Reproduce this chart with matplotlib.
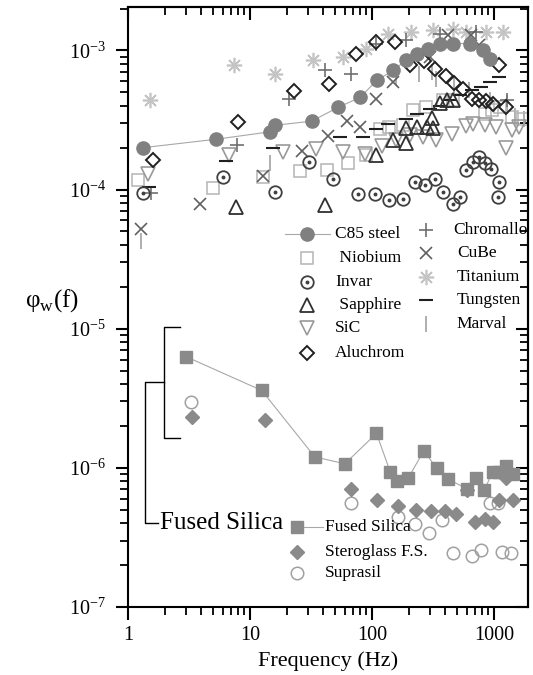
import numpy as np
import matplotlib
matplotlib.use("Agg")
from matplotlib import pyplot as plt
from matplotlib import ticker

plt.rcParams['font.family'] = ['Liberation Serif', 'DejaVu Serif']
plt.rcParams['axes.unicode_minus'] = False

# frequency (Hz) and loss angle values
c85_f = [1.33, 5.3, 14.6, 16.2, 32, 53, 80, 110, 150, 190, 232, 290, 360, 460, 640, 820, 930]
c85_v = [2.0e-4, 2.3e-4, 2.6e-4, 2.9e-4, 3.1e-4, 3.9e-4, 4.6e-4, 6.1e-4, 7.2e-4, 8.5e-4,
         9.5e-4, 1.03e-3, 1.12e-3, 1.12e-3, 1.12e-3, 1.0e-3, 8.7e-4]

niob_f = [1.21, 5.0, 12.9, 25.7, 42.5, 64, 90, 116, 138, 180, 218, 280, 384, 463, 843, 960, 1130, 1400, 1700]
niob_v = [1.17e-4, 1.03e-4, 1.23e-4, 1.35e-4, 1.38e-4, 1.54e-4, 1.76e-4, 2.74e-4, 2.8e-4, 2.9e-4,
          3.7e-4, 3.9e-4, 4.4e-4, 4.4e-4, 3.5e-4, 3.7e-4, 3.9e-4, 3.3e-4, 3.2e-4]

invar_f = [1.32, 5.97, 16, 30.7, 48, 77, 105, 139, 180, 225, 270, 326, 380, 463, 525, 595,
           675, 760, 840, 950, 1080, 1110]
invar_v = [9.4e-5, 1.23e-4, 9.6e-5, 1.58e-4, 1.2e-4, 9.3e-5, 9.3e-5, 8.4e-5, 8.6e-5, 1.13e-4,
           1.07e-4, 1.2e-4, 9.6e-5, 7.9e-5, 8.9e-5, 1.39e-4, 1.58e-4, 1.71e-4, 1.54e-4, 1.41e-4,
           8.8e-5, 1.13e-4]

sapph_f = [7.7, 41, 108, 150, 192, 192, 235, 281, 310, 315, 360, 410, 460]
sapph_v = [7.5e-5, 7.7e-5, 1.76e-4, 2.26e-4, 2.15e-4, 2.75e-4, 2.8e-4, 2.8e-4, 3.25e-4, 2.75e-4,
           4.2e-4, 4.4e-4, 4.4e-4]

sic_f = [1.47, 6.75, 18.8, 35, 58, 87, 120, 158, 204, 262, 335, 450, 595, 675, 840, 1040, 1260, 1400, 1620]
sic_v = [1.3e-4, 1.76e-4, 1.86e-4, 1.96e-4, 1.86e-4, 1.8e-4, 2.07e-4, 2.26e-4, 2.45e-4, 2.4e-4,
         2.26e-4, 2.52e-4, 2.85e-4, 2.98e-4, 2.9e-4, 2.8e-4, 2.0e-4, 2.67e-4, 2.8e-4]

aluch_f = [1.61, 8.0, 23, 44.5, 74, 108, 156, 204, 265, 326, 405, 475, 560, 655, 760, 860, 980, 1110, 1260]
aluch_v = [1.64e-4, 3.06e-4, 5.1e-4, 5.7e-4, 9.5e-4, 1.15e-3, 1.15e-3, 7.9e-4, 8.4e-4, 7.4e-4,
           6.6e-4, 5.8e-4, 5.3e-4, 4.5e-4, 4.4e-4, 4.3e-4, 4.1e-4, 7.8e-4, 3.9e-4]

chrom_f = [1.56, 7.8, 21, 41, 68, 108, 190, 360, 710, 1290]
chrom_v = [9.5e-5, 2.08e-4, 4.5e-4, 7.2e-4, 6.8e-4, 1.12e-3, 1.18e-3, 1.32e-3, 1.35e-3, 4.4e-4]

cube_f = [1.29, 3.9, 12.8, 26.5, 43.6, 62, 80, 107, 150, 300, 420, 650, 760]
cube_v = [5.2e-5, 7.9e-5, 1.25e-4, 1.9e-4, 2.41e-4, 3.1e-4, 2.8e-4, 4.5e-4, 5.9e-4, 9.0e-4,
          1.3e-3, 1.3e-3, 1.1e-3]

titan_f = [1.51, 7.4, 16, 33, 58, 90, 135, 210, 315, 460, 595, 860, 1180]
titan_v = [4.4e-4, 7.9e-4, 6.8e-4, 8.6e-4, 9.0e-4, 1.03e-3, 1.32e-3, 1.35e-3, 1.4e-3, 1.43e-3,
           1.35e-3, 1.35e-3, 1.35e-3]

tung_f = [1.5, 6.4, 15.5, 54.5, 84, 108, 135, 190, 232, 298, 360, 436, 526, 655, 790, 920, 1110]
tung_v = [1.04e-4, 1.6e-4, 2.0e-4, 2.4e-4, 2.4e-4, 2.74e-4, 2.98e-4, 3.24e-4, 3.5e-4, 3.8e-4,
          4.0e-4, 4.4e-4, 4.75e-4, 5.2e-4, 5.5e-4, 5.9e-4, 6.4e-4]

marval_f = [1.28, 14.6, 158, 245, 310, 336, 470, 620, 920, 1290, 1500, 1750]
marval_v = [4.3e-5, 1.55e-4, 6.4e-4, 6.8e-4, 7.0e-4, 6.2e-4, 5.6e-4, 5.2e-4, 4.4e-4, 4.2e-4,
            3.4e-4, 3.2e-4]

fused_f = [2.99, 12.5, 34, 60, 109, 141, 161, 199, 267, 339, 421, 597, 717, 835, 975, 1110, 1260, 1430]
fused_v = [6.3e-6, 3.6e-6, 1.2e-6, 1.07e-6, 1.77e-6, 9.4e-7, 8.0e-7, 8.5e-7, 1.33e-6, 9.9e-7,
           8.3e-7, 7.1e-7, 8.5e-7, 6.9e-7, 9.4e-7, 9.4e-7, 1.03e-6, 9.0e-7]

stero_f = [3.33, 13.4, 68, 111, 164, 231, 307, 396, 493, 597, 700, 840, 985, 1110, 1260, 1430]
stero_v = [2.33e-6, 2.2e-6, 7.1e-7, 5.9e-7, 5.3e-7, 4.98e-7, 4.9e-7, 4.9e-7, 4.7e-7, 6.9e-7,
           4.1e-7, 4.3e-7, 4.1e-7, 5.9e-7, 8.4e-7, 5.9e-7]

supra_f = [3.26, 68, 164, 225, 293, 378, 466, 665, 790, 920, 1080, 1170, 1370]
supra_v = [2.99e-6, 5.6e-7, 4.47e-7, 3.98e-7, 3.4e-7, 4.2e-7, 2.46e-7, 2.33e-7, 2.56e-7, 5.6e-7,
           5.6e-7, 2.5e-7, 2.43e-7]

# marker styles: (label, f, v, style dict)
styles = {
    'C85 steel': dict(marker='o', ms=9.5, mfc='#808080', mec='#808080', ls='-', lw=0.8, color='#a8a8a8'),
    ' Niobium': dict(marker='s', ms=8, mfc='none', mec='#b4b4b4', mew=1.1, ls='none'),
    'Invar': dict(marker='o', ms=9, mfc='none', mec='#404040', mew=1.3, ls='none'),
    ' Sapphire': dict(marker='^', ms=9.5, mfc='none', mec='#303030', mew=1.3, ls='none'),
    'SiC': dict(marker='v', ms=9.5, mfc='none', mec='#9a9a9a', mew=1.2, ls='none'),
    'Aluchrom': dict(marker='D', ms=7.5, mfc='none', mec='#202020', mew=1.4, ls='none'),
    'Chromallo': dict(marker='+', ms=10, mec='#707070', mew=1.2, ls='none'),
    'CuBe': dict(marker='x', ms=9, mec='#606060', mew=1.2, ls='none'),
    'Titanium': dict(marker=(8, 2, 0), ms=11, mec='#c4c4c4', mew=1.2, ls='none'),
    'Tungsten': dict(marker='_', ms=10, mec='#202020', mew=1.5, ls='none'),
    'Marval': dict(marker='|', ms=11, mec='#a8a8a8', mew=1.3, ls='none'),
    'Fused Silica': dict(marker='s', ms=8.5, mfc='#8a8a8a', mec='#8a8a8a', ls='-', lw=0.8, color='#a8a8a8'),
    'Steroglass F.S.': dict(marker='D', ms=7.5, mfc='#8a8a8a', mec='#8a8a8a', ls='none'),
    'Suprasil': dict(marker='o', ms=9, mfc='none', mec='#a0a0a0', mew=1.1, ls='none'),
}
series = {
    'C85 steel': (c85_f, c85_v), ' Niobium': (niob_f, niob_v), 'Invar': (invar_f, invar_v),
    ' Sapphire': (sapph_f, sapph_v), 'SiC': (sic_f, sic_v), 'Aluchrom': (aluch_f, aluch_v),
    'Chromallo': (chrom_f, chrom_v), 'CuBe': (cube_f, cube_v), 'Titanium': (titan_f, titan_v),
    'Tungsten': (tung_f, tung_v), 'Marval': (marval_f, marval_v),
    'Fused Silica': (fused_f, fused_v), 'Steroglass F.S.': (stero_f, stero_v),
    'Suprasil': (supra_f, supra_v),
}

fig = plt.figure(figsize=(5.33, 6.75), dpi=100)
ax = fig.add_axes([0.240, 0.1007, 0.7505, 0.8889])
ax.set_xscale('log')
ax.set_yscale('log')

draw_order = ['Titanium', 'Marval', ' Niobium', 'SiC', 'Chromallo', 'CuBe', 'Tungsten',
              ' Sapphire', 'Invar', 'Aluchrom', 'C85 steel', 'Suprasil', 'Steroglass F.S.', 'Fused Silica']
for name in draw_order:
    f, v = series[name]
    ax.plot(f, v, **styles[name])
    if name == 'Invar':
        ax.plot(f, v, ls='none', marker='o', ms=1.8, mfc='#404040', mec='#404040')

ax.set_xlim(1, 1900)
ax.set_ylim(1e-7, 2.05e-3)

# manual legends (axes fraction positions)
def legend_entry(name, hx, tx, y, line=None):
    st = dict(styles[name])
    if line is not None:
        ax.plot(line, [y, y], transform=ax.transAxes, color=st.get('color', 'k'),
                lw=st.get('lw', 0.8), clip_on=False)
    st['ls'] = 'none'
    ax.plot([hx], [y], transform=ax.transAxes, clip_on=False, **st)
    if name == 'Invar':
        ax.plot([hx], [y], transform=ax.transAxes, ls='none', marker='o', ms=1.8,
                mfc='#404040', mec='#404040')
    ax.text(tx, y, name, transform=ax.transAxes, fontsize=12.5, va='center', ha='left')

col1 = ['C85 steel', ' Niobium', 'Invar', ' Sapphire', 'SiC', 'Aluchrom']
col1_y = [0.6217, 0.5812, 0.5422, 0.5033, 0.4645, 0.4238]
for name, y in zip(col1, col1_y):
    legend_entry(name, 0.4475, 0.5175, y, line=(0.3925, 0.505) if name == 'C85 steel' else None)

col2 = ['Chromallo', 'CuBe', 'Titanium', 'Tungsten', 'Marval']
col2_y = [0.6283, 0.5895, 0.5505, 0.5117, 0.4712]
for name, y in zip(col2, col2_y):
    legend_entry(name, 0.745, 0.8125 if name == 'Chromallo' else 0.8225, y)

col3 = ['Fused Silica', 'Steroglass F.S.', 'Suprasil']
col3_y = [0.1338, 0.0922, 0.0567]
for name, y in zip(col3, col3_y):
    legend_entry(name, 0.4225, 0.4925, y, line=(0.4225, 0.487) if name == 'Fused Silica' else None)

# bracket grouping the fused silica samples
ax.plot([2.67, 1.97, 1.97, 2.67], [1.03e-5, 1.03e-5, 1.65e-6, 1.65e-6], color='k', lw=1.0)
ax.plot([1.97, 1.38, 1.38, 1.76], [4.15e-6, 4.15e-6, 4.0e-7, 4.0e-7], color='k', lw=1.0)
ax.text(1.82, 4.0e-7, 'Fused Silica', fontsize=18, va='center', ha='left')

# axes styling
for sp in ax.spines.values():
    sp.set_linewidth(1.5)
ax.tick_params(which='major', direction='out', length=9, width=1.5, labelsize=14.5, pad=5)
ax.tick_params(which='minor', direction='out', length=5.5, width=1.3)
ax.tick_params(axis='y', which='major', pad=7)
ax.set_xticks([1, 10, 100, 1000])
ax.set_xticklabels(['1', '10', '100', '1000'])
ax.xaxis.set_minor_locator(ticker.LogLocator(base=10, subs=np.arange(2, 10), numticks=20))
ax.xaxis.set_minor_formatter(ticker.NullFormatter())
ax.yaxis.set_major_locator(ticker.LogLocator(base=10, numticks=20))
ax.yaxis.set_major_formatter(ticker.LogFormatterMathtext())
ax.yaxis.set_minor_locator(ticker.LogLocator(base=10, subs=np.arange(2, 10), numticks=20))
ax.yaxis.set_minor_formatter(ticker.NullFormatter())

top = ax.secondary_xaxis('top')
top.set_xticks([1, 10, 100, 1000])
top.xaxis.set_minor_locator(ticker.LogLocator(base=10, subs=np.arange(2, 10), numticks=20))
top.tick_params(which='major', direction='in', length=9, width=1.5, labeltop=False)
top.tick_params(which='minor', direction='in', length=5.5, width=1.3)
top.xaxis.set_minor_formatter(ticker.NullFormatter())
top.spines['top'].set_linewidth(1.5)

right = ax.secondary_yaxis('right')
right.yaxis.set_major_locator(ticker.LogLocator(base=10, numticks=20))
right.yaxis.set_minor_locator(ticker.LogLocator(base=10, subs=np.arange(2, 10), numticks=20))
right.tick_params(which='major', direction='in', length=9, width=1.5, labelright=False)
right.tick_params(which='minor', direction='in', length=5.5, width=1.3)
right.yaxis.set_minor_formatter(ticker.NullFormatter())
right.spines['right'].set_linewidth(1.5)

ax.set_xlabel('Frequency (Hz)', fontsize=16, labelpad=4)
ax.set_ylabel('φ$_\\mathregular{w}$(f)', fontsize=18, rotation=0, labelpad=8, va='center')
ax.yaxis.set_label_coords(-0.19, 0.51)

fig.savefig('out.png', dpi=100)
